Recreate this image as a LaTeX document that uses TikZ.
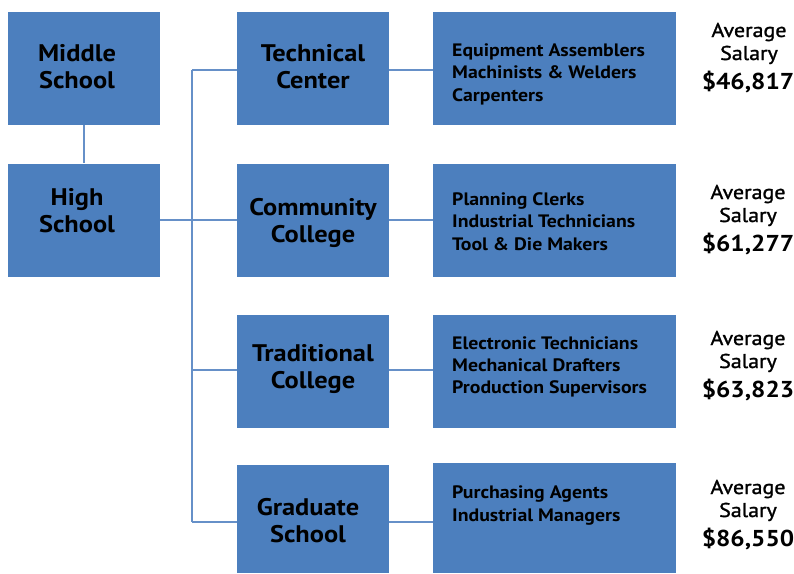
\documentclass[tikz,border=0pt]{standalone}
\usepackage{fontspec}
\setmainfont[FakeStretch=1.1]{PT Sans}
\newfontfamily\semib[FakeStretch=1.1,FakeBold=1.3]{PT Sans}
\definecolor{boxblue}{HTML}{4C7FBE}
\definecolor{lineblue}{HTML}{6690C8}
\begin{document}
\begin{tikzpicture}[x=1pt,y=-1pt,
  box/.style={fill=boxblue,draw=none,inner sep=0pt,minimum width=152pt,minimum height=113pt},
  jobbox/.style={fill=boxblue,draw=none,inner sep=0pt,minimum width=243pt,minimum height=113pt},
  mainlbl/.style={anchor=base,inner sep=0pt,font=\fontsize{24}{27}\selectfont\bfseries},
  joblbl/.style={anchor=base west,inner sep=0pt,font=\fontsize{18}{22}\selectfont\bfseries},
  sallbl/.style={anchor=base,inner sep=0pt,font=\fontsize{20}{23}\selectfont\semib},
  salnum/.style={anchor=base,inner sep=0pt,font=\fontsize{23}{28}\selectfont\bfseries},
  conn/.style={draw=lineblue,line width=1.8pt}]
\useasboundingbox (0,0) rectangle (794,573);
% left column
\node[box] (ms) at (84,68.5) {};
\node[box] (hs) at (84,220) {};
% middle column
\node[box] (tc) at (313,68.5) {};
\node[box] (cc) at (313,220.5) {};
\node[box] (tr) at (313,371.5) {};
\node[box,minimum height=108pt] (gs) at (313,518.5) {};
% job boxes
\node[jobbox] (j1) at (554.5,68.5) {};
\node[jobbox] (j2) at (554.5,220.5) {};
\node[jobbox] (j3) at (554.5,371.5) {};
\node[jobbox,minimum height=110pt] (j4) at (554.5,518) {};
% connectors
\coordinate (trunkTop) at (192,70);
\coordinate (trunkBot) at (192,522);
\draw[conn] (ms.south) -- (hs.north);
\draw[conn] (hs.east |- 0,220) -- (cc.west |- 0,220);
\draw[conn] (trunkTop) -- (trunkBot);
\draw[conn] (trunkTop) -- (tc.west |- trunkTop);
\draw[conn] (192,370) -- (tr.west |- 0,370);
\draw[conn] (trunkBot) -- (gs.west |- trunkBot);
\draw[conn] (tc.east |- 0,70) -- (j1.west |- 0,70);
\draw[conn] (cc.east |- 0,220) -- (j2.west |- 0,220);
\draw[conn] (tr.east |- 0,370) -- (j3.west |- 0,370);
\draw[conn] (gs.east |- 0,522) -- (j4.west |- 0,522);
% main labels
\node[mainlbl] (msA) at (77,61) {Middle};
\node[mainlbl] (msB) at (77,88) {School};
\node[mainlbl] (hsA) at (77,205) {High};
\node[mainlbl] (hsB) at (77,232) {School};
\node[mainlbl] (tcA) at (313,61) {Technical};
\node[mainlbl] (tcB) at (313,88) {Center};
\node[mainlbl] (ccA) at (313,215) {Community};
\node[mainlbl] (ccB) at (313,242) {College};
\node[mainlbl] (trA) at (313,361) {Traditional};
\node[mainlbl] (trB) at (313,388) {College};
\node[mainlbl] (gsA) at (308,515) {Graduate};
\node[mainlbl] (gsB) at (308,542) {School};
% job labels
\node[joblbl] (j1a) at (452,56) {Equipment Assemblers};
\node[joblbl] (j1b) at (452,78.5) {Machinists \& Welders};
\node[joblbl] (j1c) at (452,101) {Carpenters};
\node[joblbl] (j2a) at (452,205) {Planning Clerks};
\node[joblbl] (j2b) at (452,227.5) {Industrial Technicians};
\node[joblbl] (j2c) at (452,250) {Tool \& Die Makers};
\node[joblbl] (j3a) at (452,349) {Electronic Technicians};
\node[joblbl] (j3b) at (452,371) {Mechanical Drafters};
\node[joblbl] (j3c) at (452,393) {Production Supervisors};
\node[joblbl] (j4a) at (452,498) {Purchasing Agents};
\node[joblbl] (j4b) at (452,521) {Industrial Managers};
% salaries
\node[sallbl] (s1a) at (749,37) {Average};
\node[sallbl] (s1b) at (749,60) {Salary};
\node[salnum] (s1c) at (748,89) {\$46,817};
\node[sallbl] (s2a) at (748,199) {Average};
\node[sallbl] (s2b) at (748,222) {Salary};
\node[salnum] (s2c) at (748,251) {\$61,277};
\node[sallbl] (s3a) at (748,345) {Average};
\node[sallbl] (s3b) at (748,368) {Salary};
\node[salnum] (s3c) at (748,397) {\$63,823};
\node[sallbl] (s4a) at (748,494) {Average};
\node[sallbl] (s4b) at (748,517) {Salary};
\node[salnum] (s4c) at (748,546) {\$86,550};
\end{tikzpicture}
\end{document}
